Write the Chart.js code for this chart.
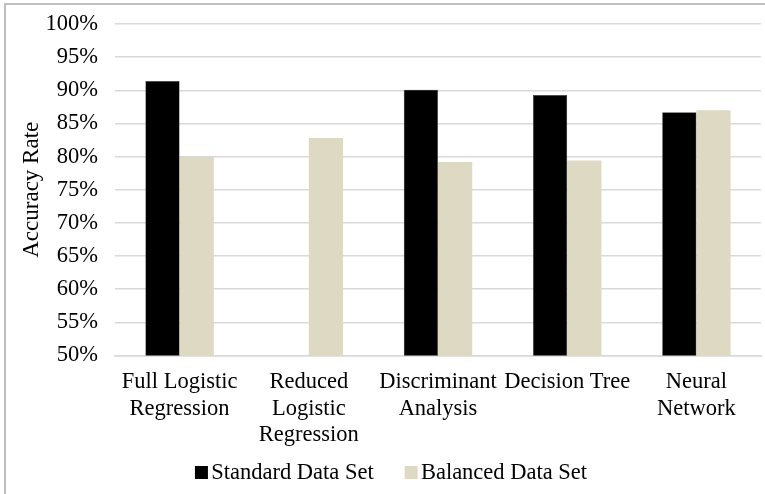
<!DOCTYPE html>
<html>
<head>
<meta charset="utf-8">
<script src="https://cdn.jsdelivr.net/npm/chart.js@4/dist/chart.umd.min.js"></script>
<style>
  html, body { margin: 0; padding: 0; background: #fff; }
  #frame { position: absolute; left: 4px; top: 3px; width: 800px; height: 600px;
           border-left: 2px solid #bfbfbf; border-top: 2px solid #bfbfbf; }
  #wrap { position: absolute; left: 0; top: 0; width: 765px; height: 494px; }
</style>
</head>
<body>
<div id="frame"></div>
<div id="wrap"><canvas id="c" width="765" height="494"></canvas></div>
<script>
// Model names (multi-line tick labels)
const categories = [
  ['Full Logistic', 'Regression'],
  ['Reduced', 'Logistic', 'Regression'],
  ['Discriminant', 'Analysis'],
  ['Decision Tree'],
  ['Neural', 'Network']
];
// Accuracy rates in percent
const standardData = [91.4, null, 90.1, 89.3, 86.7];
const balancedData = [80.0, 82.8, 79.2, 79.4, 87.0];
const seriesNames = ['Standard Data Set', 'Balanced Data Set'];
const seriesColors = ['#000000', '#ddd9c3'];

const serif = "'Liberation Serif', 'Times New Roman', serif";

// Legend marker: a 13px square placed at the right of a wider transparent
// image, so the square sits just before its text and items stay well apart
function swatch(color) {
  const c = document.createElement('canvas');
  c.width = 44; c.height = 13;
  const g = c.getContext('2d');
  g.fillStyle = color;
  g.fillRect(30, 0, 13, 13);
  return c;
}
const swatches = seriesColors.map(swatch);

new Chart(document.getElementById('c'), {
  type: 'bar',
  data: {
    labels: categories,
    datasets: [
      { label: seriesNames[0], data: standardData, backgroundColor: seriesColors[0],
        borderColor: '#3a3a3a', borderWidth: 0.5 },
      { label: seriesNames[1], data: balancedData, backgroundColor: seriesColors[1],
        borderWidth: 0 }
    ]
  },
  options: {
    responsive: false,
    animation: false,
    layout: { padding: { top: 24, right: 4, left: 0, bottom: 0 } },
    datasets: { bar: { categoryPercentage: 0.53, barPercentage: 1.0 } },
    scales: {
      y: {
        min: 50, max: 100,
        ticks: { stepSize: 5, color: '#000', padding: 17,
                 font: { family: serif, size: 22.5 },
                 callback: v => v + '%' },
        grid: { color: '#d9d9d9', lineWidth: 1.5, drawTicks: false },
        border: { display: false },
        title: { display: true, text: 'Accuracy Rate', color: '#000',
                 font: { family: serif, size: 23 }, padding: { top: 18, bottom: 0 } },
        afterFit: s => { s.width = 115; s.paddingTop = 0; s.paddingBottom = 0; }
      },
      x: {
        ticks: { color: '#000', padding: 14, maxRotation: 0, autoSkip: false,
                 font: { family: serif, size: 22.5, lineHeight: 1.16 } },
        grid: { display: false, drawTicks: false },
        border: { display: true, color: '#d9d9d9', width: 1.5 },
        afterFit: s => { s.height = 96; }
      }
    },
    plugins: {
      legend: {
        position: 'bottom',
        labels: {
          color: '#000', usePointStyle: true, pointStyleWidth: 26, boxHeight: 13,
          padding: 10, font: { family: serif, size: 22.5 },
          generateLabels: chart => chart.data.datasets.map((ds, i) => ({
            text: ds.label, pointStyle: swatches[i], fillStyle: seriesColors[i],
            strokeStyle: seriesColors[i], lineWidth: 0, hidden: false,
            datasetIndex: i, fontColor: '#000'
          }))
        }
      },
      tooltip: { enabled: false }
    }
  }
});
</script>
</body>
</html>
